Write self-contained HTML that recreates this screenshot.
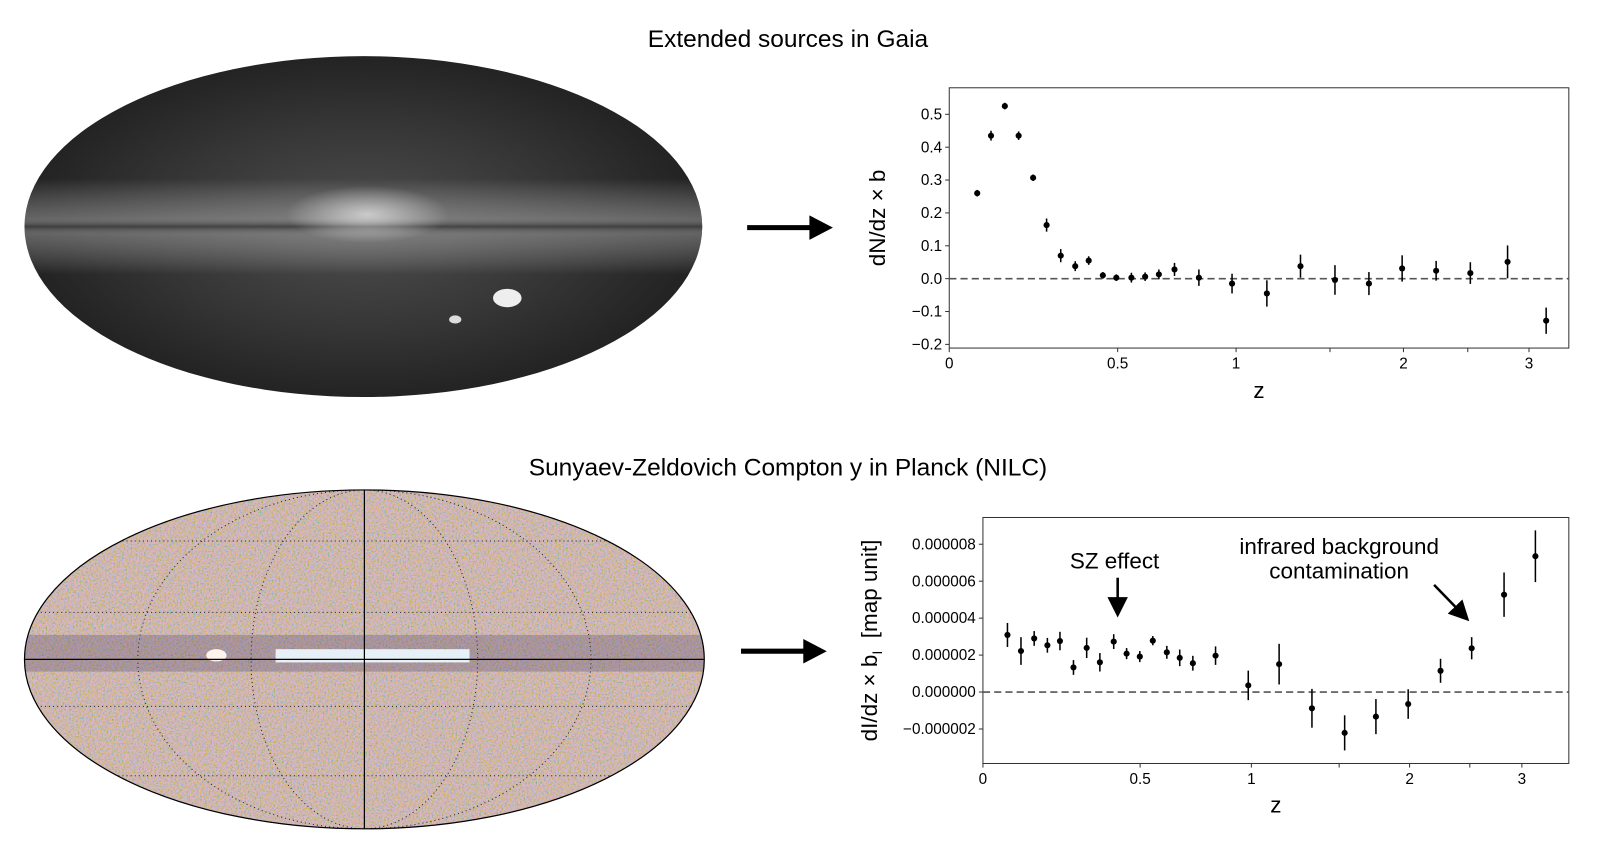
<!DOCTYPE html>
<html><head><meta charset="utf-8"><style>
html,body{margin:0;padding:0;background:#fff;}
svg{display:block;font-family:"Liberation Sans",sans-serif;}
</style></head><body>
<svg id="fig" width="1600" height="854" viewBox="0 0 1600 854" xmlns="http://www.w3.org/2000/svg">
<defs>
  <radialGradient id="gaiaBg" cx="50%" cy="50%" r="50%">
    <stop offset="0" stop-color="#4f4f4f"/><stop offset="0.6" stop-color="#363636"/><stop offset="1" stop-color="#232323"/>
  </radialGradient>
  <linearGradient id="gaiaBand" x1="0" y1="0" x2="0" y2="1">
    <stop offset="0" stop-color="#fff" stop-opacity="0"/><stop offset="0.4" stop-color="#d8d8d8" stop-opacity="0.35"/>
    <stop offset="0.5" stop-color="#444" stop-opacity="0.8"/><stop offset="0.6" stop-color="#d0d0d0" stop-opacity="0.35"/>
    <stop offset="1" stop-color="#fff" stop-opacity="0"/>
  </linearGradient>
  <radialGradient id="bulge" cx="50%" cy="50%" r="50%">
    <stop offset="0" stop-color="#fff" stop-opacity="0.6"/><stop offset="1" stop-color="#fff" stop-opacity="0"/>
  </radialGradient>
  <clipPath id="clipTop"><ellipse cx="356" cy="222" rx="332" ry="167"/></clipPath>
  <clipPath id="clipBot"><ellipse cx="357" cy="646" rx="333" ry="166"/></clipPath>
  <filter id="noise" x="0" y="0" width="100%" height="100%">
    <feTurbulence type="fractalNoise" baseFrequency="0.6" numOctaves="2" seed="3"/>
    <feColorMatrix type="matrix" values="2.6 0 0 0 -0.55  0 0 0 0 0.55  0 0 -2.6 0 1.75  0 0 0 0 0.6"/>
  </filter>
  <marker id="ah" markerWidth="8" markerHeight="8" refX="6" refY="4" orient="auto"><path d="M0,0 L8,4 L0,8 z" fill="#000"/></marker>
</defs>
<g transform="scale(1.0207)">
<text x="772" y="46" font-size="24" text-anchor="middle">Extended sources in Gaia</text>
<text x="772" y="466" font-size="24" text-anchor="middle">Sunyaev-Zeldovich Compton y in Planck (NILC)</text>

<g>
  <ellipse cx="356" cy="222" rx="332" ry="167" fill="url(#gaiaBg)"/>
  <g clip-path="url(#clipTop)">
    <rect x="24" y="175" width="664" height="94" fill="url(#gaiaBand)"/>
    <ellipse cx="360" cy="210" rx="80" ry="28" fill="url(#bulge)"/>
    <ellipse cx="497" cy="292" rx="14" ry="9" fill="#eee"/>
    <ellipse cx="446" cy="313" rx="6" ry="4" fill="#ddd"/>
  </g>
</g>

<g>
  <ellipse cx="357" cy="646" rx="333" ry="166" fill="#c4acb6"/>
  <g clip-path="url(#clipBot)">
    <rect x="24" y="480" width="666" height="332" filter="url(#noise)" opacity="0.75"/>
    <rect x="24" y="622" width="666" height="36" fill="#3a3060" opacity="0.25"/>
    <rect x="270" y="636" width="190" height="13" fill="#e6f0f6"/>
    <ellipse cx="212" cy="642" rx="10" ry="6" fill="#fff3ee"/>
    <g fill="none" stroke="#222" stroke-width="1" stroke-dasharray="1,3">
      <line x1="24" y1="600" x2="690" y2="600"/><line x1="24" y1="692" x2="690" y2="692"/>
      <line x1="24" y1="530" x2="690" y2="530"/><line x1="24" y1="760" x2="690" y2="760"/>
      <ellipse cx="357" cy="646" rx="111" ry="166"/><ellipse cx="357" cy="646" rx="222" ry="166"/>
    </g>
    <line x1="357" y1="480" x2="357" y2="812" stroke="#000" stroke-width="1.2"/>
    <line x1="24" y1="646" x2="690" y2="646" stroke="#000" stroke-width="1.2"/>
  </g>
  <ellipse cx="357" cy="646" rx="333" ry="166" fill="none" stroke="#000" stroke-width="1.2"/>
</g>

<g>
  <line x1="732" y1="223" x2="795" y2="223" stroke="#000" stroke-width="5"/>
  <path d="M793,211 L816,223 L793,235 z" fill="#000"/>
</g>
<g>
  <line x1="726" y1="638" x2="789" y2="638" stroke="#000" stroke-width="5"/>
  <path d="M787,626 L810,638 L787,650 z" fill="#000"/>
</g>

<g id="chartTop"></g>
<g id="chartBot"></g>

<text x="1092" y="557" font-size="22" text-anchor="middle">SZ effect</text>
<line x1="1095" y1="566" x2="1095" y2="600" stroke="#000" stroke-width="2.5" marker-end="url(#ah)"/>
<text x="1312" y="543" font-size="22" text-anchor="middle">infrared background</text>
<text x="1312" y="567" font-size="22" text-anchor="middle">contamination</text>
<line x1="1405" y1="573" x2="1436" y2="605" stroke="#000" stroke-width="2.5" marker-end="url(#ah)"/>
</g>
</svg>
<script>
// ---- top chart data ----
const topZ = [0.083,0.124,0.165,0.206,0.249,0.289,0.331,0.374,0.414,0.456,0.496,0.558,0.616,0.674,0.740,0.843,0.983,1.164,1.343,1.534,1.765,1.991,2.254,2.521,2.825,3.14];
const topVal = [0.26,0.435,0.525,0.435,0.307,0.163,0.07,0.038,0.055,0.01,0.003,0.003,0.006,0.013,0.028,0.003,-0.015,-0.045,0.038,-0.004,-0.015,0.031,0.024,0.017,0.051,-0.128];
const topErr = [0.01,0.015,0.01,0.013,0.01,0.02,0.02,0.015,0.013,0.01,0.01,0.015,0.013,0.015,0.02,0.025,0.03,0.04,0.035,0.045,0.035,0.04,0.03,0.033,0.05,0.04];
const topYTicks = [-0.2,-0.1,0.0,0.1,0.2,0.3,0.4,0.5];
const topYLabels = ["\u22120.2","\u22120.1","0.0","0.1","0.2","0.3","0.4","0.5"];
// ---- bottom chart data ----
const botZ = [0.078,0.121,0.163,0.205,0.245,0.288,0.330,0.372,0.416,0.457,0.499,0.557,0.620,0.678,0.737,0.839,0.986,1.158,1.345,1.539,1.761,1.990,2.257,2.518,2.829,3.13];
const botVal = [3.09,2.22,2.9,2.53,2.76,1.33,2.39,1.61,2.73,2.08,1.92,2.78,2.15,1.85,1.56,1.97,0.36,1.51,-0.88,-2.21,-1.33,-0.65,1.15,2.37,5.27,7.35];
const botErr = [0.65,0.75,0.4,0.4,0.5,0.4,0.55,0.5,0.4,0.3,0.3,0.25,0.35,0.45,0.4,0.5,0.8,1.1,1.05,0.95,0.95,0.8,0.65,0.6,1.2,1.4];
const botYTicks = [-2,0,2,4,6,8];
const botYLabels = ["\u22120.000002","0.000000","0.000002","0.000004","0.000006","0.000008"];
// ---- shared x ticks ----
const xTickVals = [0,0.5,1,1.5,2,2.5,3];
const xTickLabels = ["0","0.5","1","","2","","3"];

const NS="http://www.w3.org/2000/svg";
function mk(parent,tag,attrs){const e=document.createElementNS(NS,tag);for(const k in attrs)e.setAttribute(k,attrs[k]);parent.appendChild(e);return e;}
function piece(knotsZ,knotsPx){return function(z){let i=0;while(i<knotsZ.length-2&&z>knotsZ[i+1])i++;const t=(z-knotsZ[i])/(knotsZ[i+1]-knotsZ[i]);return knotsPx[i]+t*(knotsPx[i+1]-knotsPx[i]);};}

function drawChart(g,cfg){
  const {L,R,T,B,xScale,yScale,yTicks,yLabels,zs,vals,errs,ylabel,xlabelY,ylabelX,sub,tfs}=cfg;
  const frame=mk(g,'rect',{x:L,y:T,width:R-L,height:B-T,fill:'none',stroke:'#333','stroke-width':1});
  
  
  yTicks.forEach((v,i)=>{const y=yScale(v);
    const tk=mk(g,'line',{x1:L-4,x2:L,y1:y,y2:y,stroke:'#333'});
    
    
    const tx=mk(g,'text',{x:L-7,y:y+5,'font-size':tfs,'text-anchor':'end'});tx.textContent=yLabels[i];
    
    
  });
  xTickVals.forEach((v,i)=>{const x=xScale(v);
    const tk=mk(g,'line',{x1:x,x2:x,y1:B,y2:B+4,stroke:'#333'});
    
    
    if(xTickLabels[i]){const tx=mk(g,'text',{x:x,y:B+20,'font-size':tfs,'text-anchor':'middle'});tx.textContent=xTickLabels[i];
      
      }
  });
  const zl=mk(g,'line',{x1:L,x2:R,y1:yScale(0),y2:yScale(0),stroke:'#555','stroke-width':1.6,'stroke-dasharray':'7,4'});
  
  
  zs.forEach((z,i)=>{const x=xScale(z);
    const eb=mk(g,'line',{x1:x,x2:x,y1:yScale(vals[i]-errs[i]),y2:yScale(vals[i]+errs[i]),stroke:'#000','stroke-width':1.5});
    
    
    const c=mk(g,'circle',{cx:x,cy:yScale(vals[i]),r:3,fill:'#000'});
    
    
  });
  const xl=mk(g,'text',{x:(L+R)/2,y:xlabelY,'font-size':22,'text-anchor':'middle'});xl.textContent='z';
  
  
  const cy=(T+B)/2;
  const yl=mk(g,'text',{x:ylabelX,y:cy,'font-size':22,'text-anchor':'middle',transform:`rotate(-90 ${ylabelX} ${cy})`});
  yl.textContent=ylabel;
  if(sub){const ts=mk(yl,'tspan',{'font-size':14,dy:5});ts.textContent=sub;const t2=mk(yl,'tspan',{dy:-5});t2.textContent='\u00a0\u00a0[map unit]';}
  
  
}

const topX=piece(xTickVals,[930,1095,1211,1303,1375,1438,1498]);
const topY=v=>273-(v)*322;
drawChart(document.getElementById('chartTop'),{L:930,R:1537,T:86,B:341,xScale:topX,yScale:topY,yTicks:topYTicks,yLabels:topYLabels,zs:topZ,vals:topVal,errs:topErr,ylabel:'dN/dz \u00d7 b',xlabelY:390,ylabelX:867,tfs:15});

const botX=piece(xTickVals,[963,1117,1226,1312,1381,1440,1491]);
const botY=v=>678-v*18.1;
drawChart(document.getElementById('chartBot'),{L:963,R:1537,T:507,B:748,xScale:botX,yScale:botY,yTicks:botYTicks,yLabels:botYLabels,zs:botZ,vals:botVal,errs:botErr,ylabel:'dI/dz \u00d7 b',sub:'I',xlabelY:796,ylabelX:859,tfs:15});
</script>
</body></html>
